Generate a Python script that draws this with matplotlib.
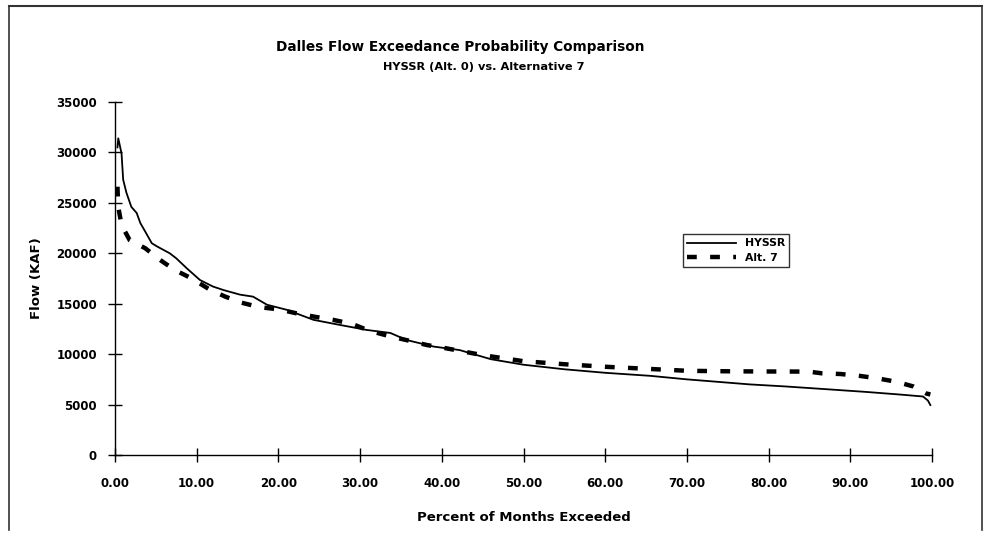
import matplotlib.pyplot as plt
from matplotlib.lines import Line2D

plt.rcParams['font.family'] = ['DejaVu Sans']
plt.rcParams['font.weight'] = 'bold'

# HYSSR (Alt. 0)
hyssr_pct = [0.3, 0.4, 0.8, 1.0, 1.4, 2.0, 2.65, 3.1, 3.7, 4.5, 5.1, 6.7, 7.5, 8.8,
             10.4, 12.0, 13.3, 15.3, 16.9, 18.6, 21.0, 24.3, 27.5, 30.8, 33.7,
             35.7, 39.0, 42.2, 46.0, 50.0, 55.0, 60.0, 65.5, 70.0, 77.7, 82.0,
             87.5, 92.0, 96.0, 98.9, 99.5, 99.8]
hyssr_val = [30500, 31400, 29900, 27300, 26000, 24600, 24000, 23000, 22150, 21000,
             20700, 20000, 19500, 18500, 17350, 16700, 16350, 15900, 15700, 14900,
             14400, 13400, 12900, 12400, 12100, 11400, 10750, 10400, 9500, 8950,
             8500, 8150, 7850, 7500, 7000, 6800, 6500, 6250, 6000, 5800, 5400, 4950]

# Alternative 7
alt7_pct = [0.3, 0.4, 0.8, 1.8, 3.7, 5.5, 7.3, 9.4, 11.6, 13.5, 15.5, 17.7, 20.0,
            22.2, 24.5, 26.7, 29.0, 31.2, 33.5, 35.9, 38.2, 40.4, 45.0, 50.0,
            55.0, 60.0, 65.0, 70.0, 75.0, 80.0, 84.9, 86.5, 88.8, 91.1, 93.3,
            95.6, 97.7, 99.3, 99.8]
alt7_val = [26600, 24600, 22800, 21300, 20500, 19350, 18350, 17500, 16400, 15700,
            15100, 14650, 14450, 14050, 13700, 13400, 13000, 12300, 11800, 11350,
            10900, 10600, 9900, 9300, 9000, 8750, 8550, 8350, 8300, 8280, 8270,
            8100, 8030, 7850, 7600, 7270, 6800, 6100, 6000]

x_ticks = [0, 10, 20, 30, 40, 50, 60, 70, 80, 90, 100]
y_ticks = [0, 5000, 10000, 15000, 20000, 25000, 30000, 35000]

fig = plt.figure(figsize=(9.84, 5.56), dpi=100)
ax = fig.add_axes([115/984, 1 - 455/556, (932 - 115)/984, (455 - 102)/556])

ax.plot(hyssr_pct, hyssr_val, color='black', lw=1.3, label='HYSSR')
ax.plot(alt7_pct, alt7_val, color='black', lw=3.2, dashes=(2.2, 3.0), label='Alt. 7')

ax.set_xlim(0, 100)
ax.set_ylim(0, 35000)
ax.set_xticks(x_ticks)
ax.set_xticklabels(['%.2f' % t for t in x_ticks])
ax.set_yticks(y_ticks)
ax.spines['top'].set_visible(False)
ax.spines['right'].set_visible(False)
ax.spines['left'].set_linewidth(1.0)
ax.spines['bottom'].set_linewidth(1.0)
ax.tick_params(direction='inout', length=10, width=1.0, labelsize=8.5, pad=11)
ax.tick_params(axis='y', pad=8)
for lab in ax.get_xticklabels() + ax.get_yticklabels():
    lab.set_fontweight('bold')

ax.set_xlabel('Percent of Months Exceeded', fontsize=9.5, fontweight='bold')
ax.set_ylabel('Flow (KAF)', fontsize=9.5, fontweight='bold')
ax.xaxis.set_label_coords(0.5, (455 - 511) / 353)
ax.yaxis.set_label_coords((43 - 115) / 817, 0.5)

leg = ax.legend(loc='upper left', bbox_to_anchor=((683 - 115)/817, 1 - (234 - 102)/353),
                fontsize=7.8, frameon=True, fancybox=False, edgecolor='black',
                handlelength=4.5, borderpad=0.4, labelspacing=0.4, borderaxespad=0)
leg.get_frame().set_linewidth(1.0)
for t in leg.get_texts():
    t.set_fontweight('bold')

fig.text(460/984, 1 - 47/556, 'Dalles Flow Exceedance Probability Comparison',
         ha='center', va='center', fontsize=9.8, fontweight='bold')
fig.text(484/984, 1 - 67/556, 'HYSSR (Alt. 0) vs. Alternative 7',
         ha='center', va='center', fontsize=8.2, fontweight='bold')

# page border from the scan
fig.add_artist(Line2D([9/984, 982/984], [1 - 6/556, 1 - 6/556], color='#333333', lw=1.5))
fig.add_artist(Line2D([9/984, 9/984], [1 - 6/556, 1 - 530/556], color='#333333', lw=1.2))
fig.add_artist(Line2D([982/984, 982/984], [1 - 6/556, 1 - 530/556], color='#333333', lw=1.2))

fig.savefig('out.png', dpi=100)
